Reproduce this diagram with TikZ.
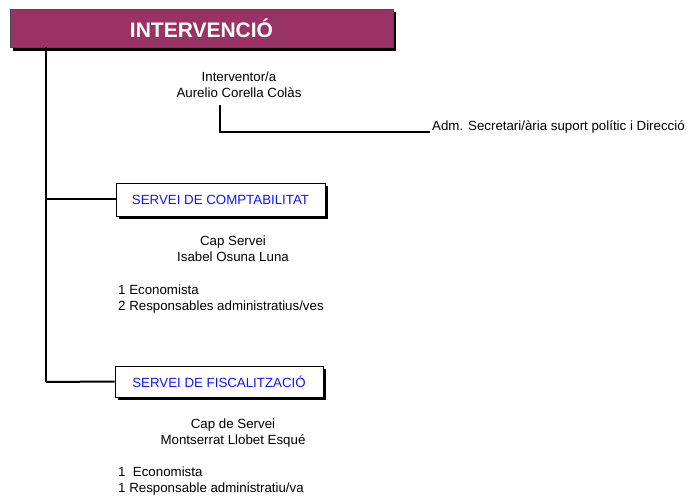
\documentclass[tikz,border=0pt]{standalone}
\usepackage{fontspec}
\setmainfont{Liberation Sans}
\definecolor{plum}{RGB}{153,51,102}
\definecolor{txtblue}{RGB}{20,20,255}
\begin{document}
\begin{tikzpicture}[x=1pt,y=-1pt,
  conn/.style={line width=2pt},
  plain/.style={inner sep=0pt,font=\fontsize{13.3}{16}\selectfont,align=center},
  listtxt/.style={inner sep=0pt,font=\fontsize{13.3}{16}\selectfont,align=left,anchor=north west},
  svcbox/.style={draw=black,line width=0.8pt,fill=white,inner sep=0pt,font=\fontsize{13.3}{15}\selectfont,text=txtblue},
]
\useasboundingbox (0,0) rectangle (689,502);
% title
\fill[black] (13,12) rectangle (396,51);
\node[draw=gray!60!black,line width=0.6pt,fill=plum,minimum width=383pt,minimum height=38pt,inner sep=0pt,
  text=white,font=\bfseries\fontsize{21}{22}\selectfont] (title) at (201.5,28.5) {INTERVENCIÓ};
% services
\fill[black] (119,186) rectangle (328,219);
\node[svcbox,minimum width=209pt,minimum height=33pt] (comp) at (220.5,199.5) {SERVEI DE COMPTABILITAT};
\fill[black] (118,369) rectangle (326,400);
\node[svcbox,minimum width=208pt,minimum height=31pt] (fisc) at (219,381.5) {SERVEI DE FISCALITZACIÓ};
% spine
\coordinate (top) at (46,47);
\coordinate (bot) at (46,382);
\draw[conn] (top) -- (bot);
\draw[conn] (46,199.5) -- (comp.west);
\draw[conn] (bot) -- (fisc.west);
% interventor
\node[plain] (interv) at (239,84.5) {Interventor/a\\Aurelio Corella Colàs};
\node[plain,anchor=west] (adm) at (432,127) {Adm. Secretari/ària suport polític i Direcció};
\coordinate (c1) at (220,105);
\draw[conn] (c1) |- (430,132.5);
% comptabilitat staff
\node[plain] (cap1) at (233,249) {Cap Servei\\Isabel Osuna Luna};
\node[listtxt] (st1) at (118,285) {1 Economista\\2 Responsables administratius/ves};
% fiscalitzacio staff
\node[plain] (cap2) at (233,433) {Cap de Servei\\Montserrat Llobet Esqué};
\node[listtxt] (st2) at (118,467) {1\ \ Economista\\1 Responsable administratiu/va};
\end{tikzpicture}
\end{document}
